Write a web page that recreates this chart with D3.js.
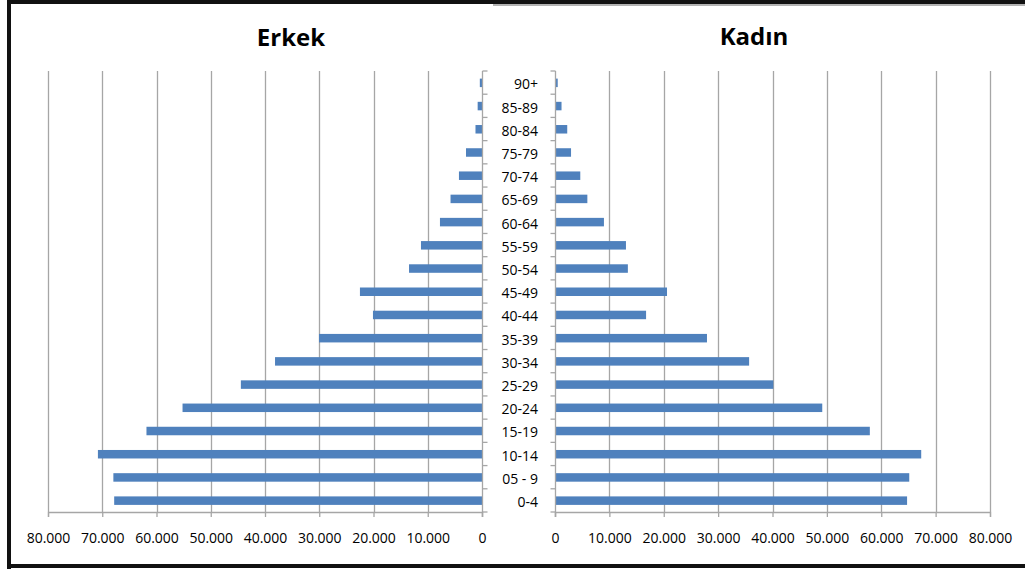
<!DOCTYPE html>
<html>
<head>
<meta charset="utf-8">
<script src="https://cdn.jsdelivr.net/npm/d3@7"></script>
<style>
    body { margin: 0; background: #fff; }
    text { font-family: "Open Sans", sans-serif; fill: #000; }
</style>
</head>
<body>
<div id="pyramid"></div>
<script>
// age groups, top to bottom
var ageGroups = ["90+", "85-89", "80-84", "75-79", "70-74", "65-69", "60-64", "55-59", "50-54",
    "45-49", "40-44", "35-39", "30-34", "25-29", "20-24", "15-19", "10-14", "05 - 9", "0-4"];

var erkek = [400, 800, 1200, 2950, 4250, 5800, 7750, 11250, 13450,
    22500, 20100, 30050, 38150, 44450, 55200, 61850, 70800, 67950, 67800];

var kadin = [500, 1200, 2250, 2950, 4650, 5950, 9000, 13050, 13400,
    20600, 16750, 27950, 35700, 40150, 49150, 57900, 67350, 65150, 64750];

var tickValues = [0, 10000, 20000, 30000, 40000, 50000, 60000, 70000, 80000];

var width = 1025, height = 569;
var plotTop = 71, plotBottom = 512;
var gridColor = "#a6a6a6";
var barColor = "#4f81bd";

var svg = d3.select("#pyramid")
    .append("svg")
    .attr("width", width)
    .attr("height", height);

var fmt = d3.formatLocale({decimal: ",", thousands: ".", grouping: [3], currency: ["", ""]}).format(",");

var y = d3.scaleBand()
    .domain(ageGroups)
    .range([plotTop, plotBottom]);

var xLeft = d3.scaleLinear().domain([0, 80000]).range([482, 48]);
var xRight = d3.scaleLinear().domain([0, 80000]).range([555, 990]);

function drawSide(x, data, tickDir) {
    var g = svg.append("g");

    // vertical gridlines
    g.selectAll(".grid")
        .data(tickValues.slice(1))
        .enter()
        .append("line")
        .attr("x1", function (d) { return Math.round(x(d)) + 0.5; })
        .attr("x2", function (d) { return Math.round(x(d)) + 0.5; })
        .attr("y1", plotTop)
        .attr("y2", plotBottom)
        .style("stroke", gridColor)
        .style("stroke-width", 1.3);

    // bars
    g.selectAll("rect")
        .data(data)
        .enter()
        .append("rect")
        .attr("x", function (d) { return Math.min(x(0), x(d)); })
        .attr("width", function (d) { return Math.abs(x(d) - x(0)); })
        .attr("y", function (d, i) { return y(ageGroups[i]) + y.bandwidth() / 2 - 4; })
        .attr("height", 8.5)
        .style("fill", barColor);

    // bottom axis
    var axis = g.append("g")
        .attr("transform", "translate(0," + plotBottom + ")")
        .call(d3.axisBottom(x).tickValues(tickValues).tickSize(5).tickPadding(16).tickFormat(fmt));
    axis.select(".domain").style("stroke", gridColor).style("stroke-width", 1.3);
    axis.selectAll(".tick line").style("stroke", gridColor).style("stroke-width", 1.3);
    axis.selectAll("text").style("font-size", "14px").style("fill", "#000")
        .style("font-family", "'Open Sans', sans-serif");

    // vertical category axis
    var x0 = Math.round(x(0)) + 0.5;
    g.append("line")
        .attr("x1", x0).attr("x2", x0)
        .attr("y1", plotTop).attr("y2", plotBottom + 5)
        .style("stroke", gridColor)
        .style("stroke-width", 1.3);

    var bounds = ageGroups.map(function (d) { return y(d); }).concat([plotBottom]);
    g.selectAll(".cattick")
        .data(bounds)
        .enter()
        .append("line")
        .attr("x1", x0)
        .attr("x2", x0 + tickDir * 5)
        .attr("y1", function (d) { return d; })
        .attr("y2", function (d) { return d; })
        .style("stroke", gridColor)
        .style("stroke-width", 1.3);
}

drawSide(xLeft, erkek, 1);
drawSide(xRight, kadin, -1);

// category labels in the middle
svg.selectAll(".age")
    .data(ageGroups)
    .enter()
    .append("text")
    .attr("class", "age")
    .attr("x", 538)
    .attr("y", function (d) { return y(d) + y.bandwidth() / 2; })
    .attr("dy", "0.48em")
    .attr("text-anchor", "end")
    .style("font-size", "14px")
    .text(function (d) { return d; });

// titles
svg.append("text")
    .attr("x", 291)
    .attr("y", 46)
    .attr("text-anchor", "middle")
    .style("font-size", "24px")
    .style("font-weight", "bold")
    .text("Erkek");

svg.append("text")
    .attr("x", 754)
    .attr("y", 45)
    .attr("text-anchor", "middle")
    .style("font-size", "24px")
    .style("font-weight", "bold")
    .text("Kadın");

// frame
svg.append("line").attr("x1", 9).attr("x2", 9).attr("y1", 0).attr("y2", 569)
    .style("stroke", "#111").style("stroke-width", 4);
svg.append("line").attr("x1", 7).attr("x2", 1025).attr("y1", 2).attr("y2", 2)
    .style("stroke", "#111").style("stroke-width", 4);
svg.append("line").attr("x1", 493).attr("x2", 1025).attr("y1", 5).attr("y2", 5)
    .style("stroke", "#999").style("stroke-width", 1.5);
svg.append("line").attr("x1", 7).attr("x2", 1025).attr("y1", 566).attr("y2", 566)
    .style("stroke", "#111").style("stroke-width", 4);
</script>
</body>
</html>
